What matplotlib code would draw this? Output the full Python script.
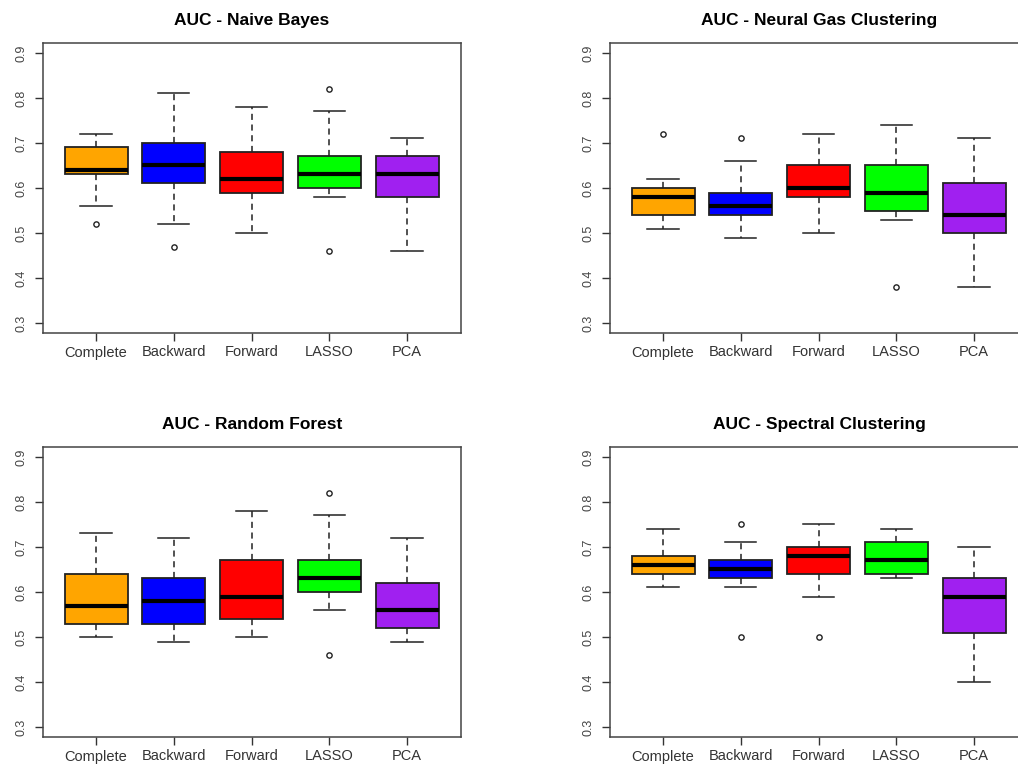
import matplotlib
matplotlib.use("Agg")
import matplotlib.pyplot as plt

methods = ["Complete", "Backward", "Forward", "LASSO", "PCA"]
box_colors = ["#FFA500", "#0000FF", "#FF0000", "#00FF00", "#A020F0"]

# per classifier: lower whisker, Q1, median, Q3, upper whisker, outliers
nb_low = [0.56, 0.52, 0.50, 0.58, 0.46]
nb_q1 = [0.63, 0.61, 0.59, 0.60, 0.58]
nb_med = [0.64, 0.65, 0.62, 0.63, 0.63]
nb_q3 = [0.69, 0.70, 0.68, 0.67, 0.67]
nb_high = [0.72, 0.81, 0.78, 0.77, 0.71]
nb_out = [[0.52], [0.47], [], [0.82, 0.46], []]

ng_low = [0.51, 0.49, 0.50, 0.53, 0.38]
ng_q1 = [0.54, 0.54, 0.58, 0.55, 0.50]
ng_med = [0.58, 0.56, 0.60, 0.59, 0.54]
ng_q3 = [0.60, 0.59, 0.65, 0.65, 0.61]
ng_high = [0.62, 0.66, 0.72, 0.74, 0.71]
ng_out = [[0.72], [0.71], [], [0.38], []]

rf_low = [0.50, 0.49, 0.50, 0.56, 0.49]
rf_q1 = [0.53, 0.53, 0.54, 0.60, 0.52]
rf_med = [0.57, 0.58, 0.59, 0.63, 0.56]
rf_q3 = [0.64, 0.63, 0.67, 0.67, 0.62]
rf_high = [0.73, 0.72, 0.78, 0.77, 0.72]
rf_out = [[], [], [], [0.82, 0.46], []]

sc_low = [0.61, 0.61, 0.59, 0.63, 0.40]
sc_q1 = [0.64, 0.63, 0.64, 0.64, 0.51]
sc_med = [0.66, 0.65, 0.68, 0.67, 0.59]
sc_q3 = [0.68, 0.67, 0.70, 0.71, 0.63]
sc_high = [0.74, 0.71, 0.75, 0.74, 0.70]
sc_out = [[], [0.75, 0.50], [0.50], [], []]

panels = [
    ("AUC - Naive Bayes", nb_low, nb_q1, nb_med, nb_q3, nb_high, nb_out),
    ("AUC - Neural Gas Clustering", ng_low, ng_q1, ng_med, ng_q3, ng_high, ng_out),
    ("AUC - Random Forest", rf_low, rf_q1, rf_med, rf_q3, rf_high, rf_out),
    ("AUC - Spectral Clustering", sc_low, sc_q1, sc_med, sc_q3, sc_high, sc_out),
]

# axes rectangles in figure fractions (right column runs past the edge)
W, H = 1018, 764
rects = [
    (43 / W, 1 - 333 / H, 418 / W, 290 / H),
    (610 / W, 1 - 333 / H, 418 / W, 290 / H),
    (43 / W, 1 - 737 / H, 418 / W, 290 / H),
    (610 / W, 1 - 737 / H, 418 / W, 290 / H),
]

plt.rcParams["font.family"] = ["Liberation Sans", "DejaVu Sans"]
fig = plt.figure(figsize=(W / 100, H / 100), dpi=100)

for rect, (title, low, q1, med, q3, high, out) in zip(rects, panels):
    ax = fig.add_axes(rect)
    stats = []
    for i in range(len(methods)):
        stats.append({
            "whislo": low[i], "q1": q1[i], "med": med[i], "q3": q3[i],
            "whishi": high[i], "fliers": out[i], "label": methods[i],
        })
    bp = ax.bxp(
        stats, positions=range(1, 6), widths=0.81, patch_artist=True,
        boxprops=dict(edgecolor="#222222", linewidth=1.3),
        medianprops=dict(color="black", linewidth=3, solid_capstyle="butt"),
        whiskerprops=dict(color="#222222", linewidth=1.1, linestyle=(0, (4, 3))),
        capprops=dict(color="#222222", linewidth=1.1),
        flierprops=dict(marker="o", markersize=3.8, markerfacecolor="none",
                        markeredgecolor="#222222", markeredgewidth=1.0),
        capwidths=0.4,
    )
    for patch, c in zip(bp["boxes"], box_colors):
        patch.set_facecolor(c)

    ax.set_xlim(0.318, 5.694)
    ax.set_ylim(0.278, 0.922)
    ax.set_yticks([0.3, 0.4, 0.5, 0.6, 0.7, 0.8, 0.9])
    ax.set_yticklabels(["0.3", "0.4", "0.5", "0.6", "0.7", "0.8", "0.9"],
                       rotation=90, va="center", color="#444444", fontsize=9)
    ax.set_xticks(range(1, 6))
    ax.set_xticklabels(methods, fontsize=10.5, color="#333333")
    ax.tick_params(axis="y", length=6, width=1, color="#333333", pad=5)
    ax.tick_params(axis="x", length=6, width=1, color="#333333", pad=3)
    for s in ax.spines.values():
        s.set_color("#444444")
        s.set_linewidth(1.1)
    ax.set_title(title, fontsize=12.5, fontweight="bold", pad=13)

plt.savefig("out.png", dpi=100)
